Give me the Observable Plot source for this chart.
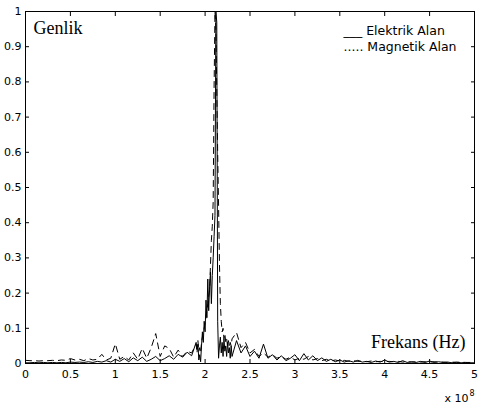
<!DOCTYPE html>
<html>
<head>
<meta charset="utf-8">
<script src="https://cdn.jsdelivr.net/npm/d3@7"></script>
<script src="https://cdn.jsdelivr.net/npm/@observablehq/plot@0.6"></script>
<style>
  html, body { margin: 0; padding: 0; background: #fff; }
  svg { display: block; }
</style>
</head>
<body>
<div id="chart"></div>
<script>
// Frequency in units of 1e8 Hz
const freq = [
  0,0.05,0.1,0.15,0.2,0.25,0.3,0.35,0.4,0.45,0.5,0.55,0.6,0.65,0.7,0.75,0.8,0.85,0.9,0.95,
  1,1.05,1.1,1.15,1.2,1.25,1.3,1.35,1.4,1.45,1.5,1.55,1.6,1.65,1.7,1.75,1.8,1.85,
  1.9,1.91,1.92,1.93,1.94,1.95,1.96,1.97,1.98,1.99,2.0,2.01,2.02,2.03,2.04,2.05,2.06,2.07,2.08,2.09,
  2.1,2.11,2.12,2.13,2.14,2.15,2.16,2.17,2.18,2.19,2.2,2.21,2.22,2.23,2.24,2.25,2.26,2.27,2.28,2.29,2.3,
  2.35,2.4,2.45,2.5,2.55,2.6,2.65,2.7,2.75,2.8,2.85,2.9,2.95,3.0,3.05,3.1,3.15,3.2,3.25,3.3,
  3.35,3.4,3.45,3.5,3.55,3.6,3.65,3.7,3.75,3.8,3.85,3.9,3.95,4.0,4.05,4.1,4.15,4.2,4.25,4.3,
  4.35,4.4,4.45,4.5,4.55,4.6,4.65,4.7,4.75,4.8,4.85,4.9,4.95,5.0
];
const elektrik = [
  0.002,0.002,0.003,0.002,0.003,0.002,0.003,0.002,0.003,0.002,0.004,0.003,0.004,0.003,0.005,0.003,0.006,0.004,0.008,0.004,
  0.012,0.006,0.014,0.005,0.016,0.008,0.018,0.006,0.012,0.02,0.008,0.014,0.022,0.012,0.026,0.018,0.032,0.022,
  0.06,0.04,0.055,0.01,0.025,0.005,0.05,0.09,0.06,0.12,0.09,0.18,0.13,0.24,0.15,0.22,0.26,0.17,0.25,0.3,
  0.36,0.42,1.0,0.97,0.12,0.015,0.05,0.075,0.03,0.06,0.02,0.07,0.035,0.05,0.02,0.06,0.03,0.045,0.015,0.05,0.02,
  0.065,0.03,0.05,0.02,0.035,0.015,0.055,0.015,0.025,0.01,0.022,0.008,0.015,0.025,0.008,0.028,0.01,0.022,0.008,0.016,
  0.006,0.012,0.005,0.01,0.004,0.008,0.004,0.009,0.004,0.006,0.003,0.007,0.004,0.01,0.004,0.006,0.003,0.008,0.003,0.005,
  0.003,0.006,0.003,0.007,0.003,0.005,0.003,0.004,0.002,0.004,0.002,0.003,0.002,0.002
];
const magnetik = [
  0.009,0.008,0.008,0.007,0.008,0.008,0.009,0.008,0.01,0.009,0.014,0.01,0.012,0.008,0.014,0.01,0.012,0.026,0.01,0.015,
  0.056,0.012,0.02,0.01,0.03,0.012,0.043,0.015,0.045,0.085,0.02,0.05,0.043,0.018,0.038,0.02,0.035,0.03,
  0.055,0.03,0.065,0.035,0.045,0.03,0.06,0.075,0.09,0.1,0.115,0.13,0.15,0.17,0.19,0.21,0.28,0.35,0.39,0.46,
  0.78,1.0,0.95,0.78,0.6,0.45,0.28,0.17,0.12,0.09,0.1,0.07,0.085,0.06,0.07,0.05,0.065,0.045,0.06,0.05,0.07,
  0.088,0.045,0.06,0.03,0.04,0.02,0.03,0.018,0.025,0.015,0.02,0.012,0.018,0.01,0.015,0.012,0.02,0.01,0.014,0.008,
  0.012,0.007,0.01,0.007,0.009,0.006,0.008,0.006,0.007,0.005,0.007,0.005,0.006,0.005,0.006,0.005,0.006,0.004,0.005,0.004,
  0.005,0.004,0.005,0.004,0.005,0.004,0.004,0.003,0.004,0.003,0.004,0.003,0.003,0.003
];
const xTicks = [0,0.5,1,1.5,2,2.5,3,3.5,4,4.5,5];
const yTicks = [0,0.1,0.2,0.3,0.4,0.5,0.6,0.7,0.8,0.9,1];
const yAxisTitle = "Genlik";
const xAxisTitle = "Frekans (Hz)";
const legendLabels = ["___ Elektrik Alan", "..... Magnetik Alan"];
const exponentBase = "x 10";
const exponent = "8";

const dataE = freq.map((f, i) => ({f, v: elektrik[i]}));
const dataM = freq.map((f, i) => ({f, v: magnetik[i]}));

const sans = "DejaVu Sans, Liberation Sans, Arial, sans-serif";
const serif = "Liberation Serif, Times New Roman, serif";

const chart = Plot.plot({
  width: 479,
  height: 410,
  marginLeft: 25,
  marginRight: 5,
  marginTop: 11,
  marginBottom: 47,
  style: {background: "#fff", fontFamily: sans, fontSize: "11px", color: "#000"},
  x: {domain: [0, 5], label: null},
  y: {domain: [0, 1], label: null},
  marks: [
    Plot.line(dataM, {x: "f", y: "v", stroke: "#000", strokeWidth: 1, strokeDasharray: "6,5"}),
    Plot.line(dataE, {x: "f", y: "v", stroke: "#000", strokeWidth: 1}),
    Plot.frame({stroke: "#000", strokeWidth: 1}),
    Plot.axisX(xTicks, {anchor: "bottom", tickSize: -4, tickPadding: 11, tickFormat: d => String(d), label: null, fontSize: 11}),
    Plot.axisX(xTicks, {anchor: "top", tickSize: -4, tickFormat: () => "", label: null}),
    Plot.axisY(yTicks, {anchor: "left", tickSize: -4, tickPadding: 8, tickFormat: d => String(d), label: null, fontSize: 11}),
    Plot.axisY(yTicks, {anchor: "right", tickSize: -4, tickFormat: () => "", label: null}),
    Plot.text([yAxisTitle], {frameAnchor: "top-left", dx: 8, dy: 22, textAnchor: "start", lineAnchor: "bottom", fontFamily: serif, fontSize: 18, fill: "#000"}),
    Plot.text([xAxisTitle], {frameAnchor: "bottom-right", dx: -9, dy: -16, textAnchor: "end", lineAnchor: "bottom", fontFamily: serif, fontSize: 18, fill: "#000"}),
    Plot.text([legendLabels[0]], {frameAnchor: "top-right", dx: -131, dy: 23, textAnchor: "start", lineAnchor: "bottom", fontSize: 12.5, fill: "#000"}),
    Plot.text([legendLabels[1]], {frameAnchor: "top-right", dx: -131, dy: 39, textAnchor: "start", lineAnchor: "bottom", fontSize: 12.5, fill: "#000"}),
    Plot.text([exponentBase], {frameAnchor: "bottom-right", dx: -6, dy: 38, textAnchor: "end", lineAnchor: "bottom", fontSize: 11, fill: "#000"}),
    Plot.text([exponent], {frameAnchor: "bottom-right", dx: -5, dy: 32, textAnchor: "start", lineAnchor: "bottom", fontSize: 8, fill: "#000"})
  ]
});
document.getElementById("chart").appendChild(chart);
</script>
</body>
</html>
